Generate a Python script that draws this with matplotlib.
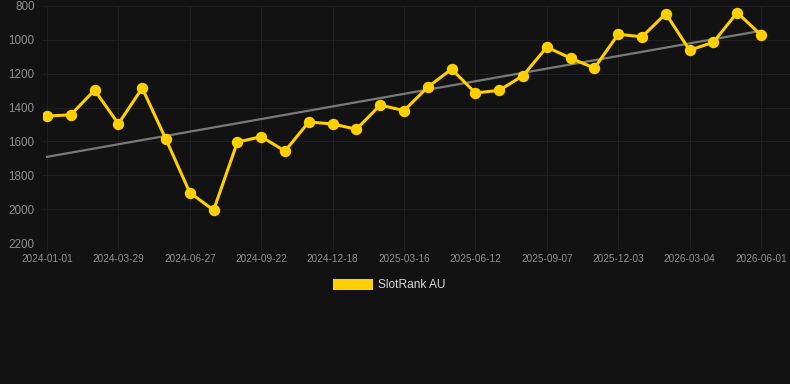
import numpy as np
import matplotlib
matplotlib.use('Agg')
import matplotlib.pyplot as plt
from matplotlib.patches import Rectangle

# rank values (lower = better, y axis inverted)
rank = [1450, 1443, 1297, 1496, 1285, 1588, 1902, 2006, 1604, 1572,
        1657, 1485, 1497, 1528, 1385, 1418, 1279, 1173, 1314, 1298,
        1212, 1043, 1108, 1167, 967, 982, 845, 1061, 1014, 839, 971]
tick_labels = ['2024-01-01', '2024-03-29', '2024-06-27', '2024-09-22',
               '2024-12-18', '2025-03-16', '2025-06-12', '2025-09-07',
               '2025-12-03', '2026-03-04', '2026-06-01']
y_ticks = [800, 1000, 1200, 1400, 1600, 1800, 2000, 2200]
series_name = 'SlotRank AU'

bg = '#121212'
gold = '#FFD000'

plt.rcParams['font.family'] = ['Liberation Sans', 'DejaVu Sans']

fig = plt.figure(figsize=(7.9, 3.84), dpi=100, facecolor=bg)
ax = fig.add_axes([43/790, 1-243/384, 1-43/790, (243-6)/384])
ax.set_facecolor(bg)

x = np.arange(len(rank))
# trend line (linear fit)
k, b = np.polyfit(x, rank, 1)
ax.plot([x[0], x[-1]], [k*x[0]+b, k*x[-1]+b], color='#7a7a7a', lw=1.6, zorder=2)

ax.plot(x, rank, color=gold, lw=2.2, marker='o', ms=7.2, zorder=3)

ax.set_xlim((43-47)/23.8, (790-47)/23.8)
ax.set_ylim(2200, 800)
ax.set_yticks(y_ticks)
ax.set_yticklabels([str(v) for v in y_ticks])
ax.set_xticks(np.arange(0, len(rank), 3))
ax.set_xticklabels(tick_labels)

ax.grid(True, color='#1f1f1f', lw=0.8)
for s in ax.spines.values():
    s.set_visible(False)
ax.tick_params(axis='y', length=0, pad=6, labelsize=8.4, labelcolor='#8f8f8f')
ax.tick_params(axis='x', length=5, color='#1f1f1f', pad=3, labelsize=7.2, labelcolor='#8f8f8f')

# legend
fig.add_artist(Rectangle((333/790, 1-290/384), 40/790, 11/384,
                         transform=fig.transFigure, facecolor=gold, edgecolor='none'))
fig.text(378/790, 1-285/384, series_name, color='#d8d8d8', fontsize=8.6, va='center', ha='left')

fig.savefig('out.png', dpi=100, facecolor=bg)
